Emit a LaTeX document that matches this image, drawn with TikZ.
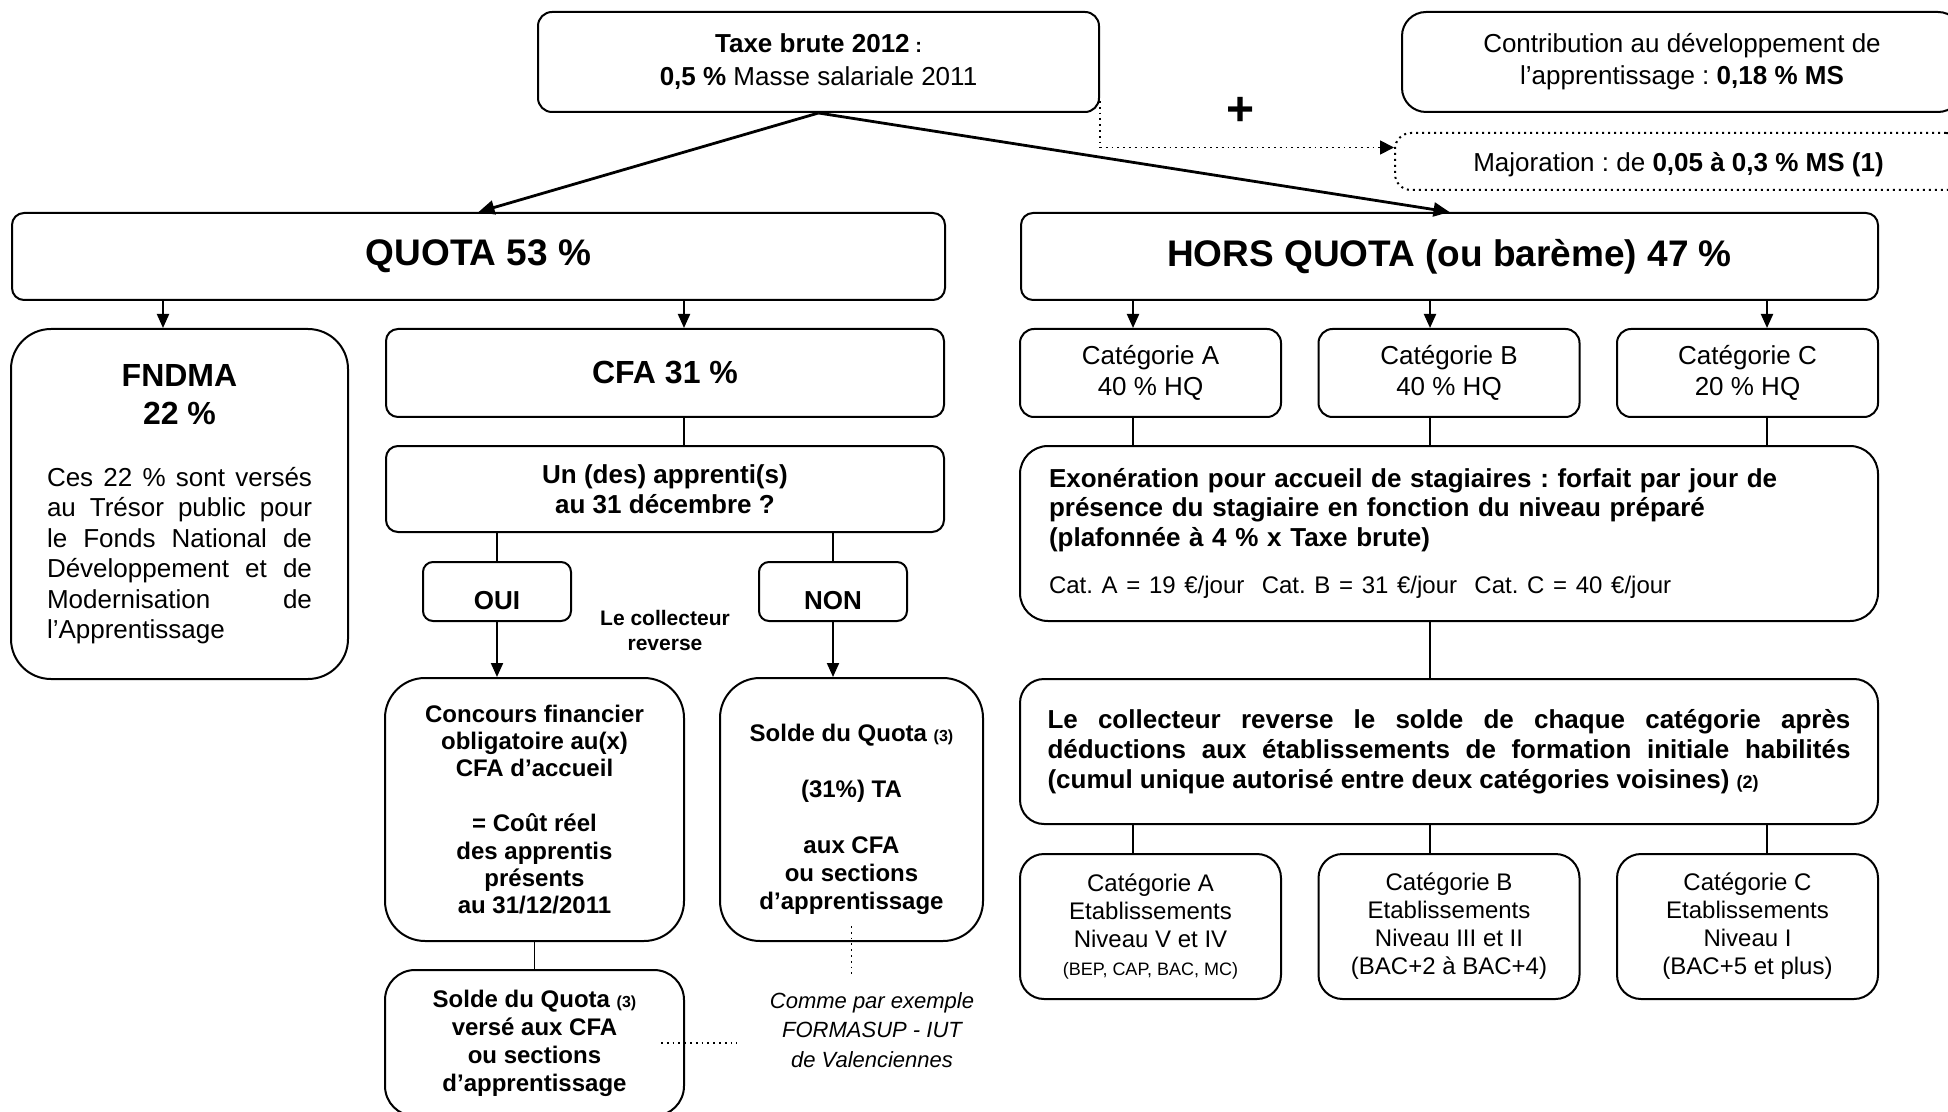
\documentclass[tikz,border=0pt]{standalone}
\usepackage{fontspec}
\setmainfont{Liberation Sans}
\usetikzlibrary{arrows.meta}
\hyphenpenalty=10000
\exhyphenpenalty=10000
\tolerance=10000
\frenchspacing

\tikzset{
  box/.style={draw, line width=1pt, rounded corners=6pt, inner sep=0pt, align=center, font=\fontsize{13}{15}\selectfont},
  bigbox/.style={box, rounded corners=20pt},
  dotbox/.style={box, dotted, rounded corners=8pt},
  arr/.style={-{Triangle[length=7pt,width=6pt]}, line width=1pt},
  bigarr/.style={-{Triangle[length=8pt,width=7pt]}, line width=1.4pt},
  link/.style={line width=0.7pt},
  dotlink/.style={line width=0.9pt, dotted},
}

\begin{document}
\begin{tikzpicture}[x=0.5pt,y=-0.5pt]
\useasboundingbox (0,0) rectangle (1948,1112);

\node[box, rounded corners=7pt, minimum width=280.5pt, minimum height=50pt, font=\fontsize{13}{16.5}\selectfont] (taxe) at (818.5,62) {\textbf{Taxe brute 2012}{\fontsize{10}{10}\selectfont\bfseries\ :}\\\textbf{0,5 \%} Masse salariale 2011};
\node[box, rounded corners=12pt, minimum width=280pt, minimum height=50pt, font=\fontsize{13}{16}\selectfont] (contrib) at (1682,62) {Contribution au développement de\\l'apprentissage : \textbf{0,18 \% MS}};
\node[dotbox, minimum width=283.5pt, minimum height=28.5pt, text depth=0pt] (maj) at (1678.5,161.5) {Majoration : de \textbf{0,05 à 0,3 \% MS (1)}};
\node[font=\fontsize{24}{24}\selectfont\bfseries] (plus) at (1240,111) {+};

\node[box, minimum width=466.5pt, minimum height=43.5pt, font=\fontsize{18.5}{22}\selectfont\bfseries] (quota) at (478.5,256.5) {QUOTA 53 \%};
\node[box, minimum width=428.5pt, minimum height=43.5pt, font=\fontsize{18.5}{22}\selectfont\bfseries] (hq) at (1449.5,256.5) {HORS QUOTA (ou barème) 47 \%};

\node[bigbox, minimum width=168.5pt, minimum height=175pt, text width=132.5pt, align=justify, font=\fontsize{13}{15.2}\selectfont] (fndma) at (179.5,504) {{\centering\fontsize{16}{19}\selectfont\bfseries FNDMA\par 22~\%\par}\vspace{16pt}Ces 22~\% sont versés\linebreak au Trésor public pour\linebreak le Fonds National de\linebreak Développement et de\linebreak Modernisation de\linebreak l'Apprentissage};
\node[box, minimum width=279pt, minimum height=44pt, font=\fontsize{16}{19}\selectfont\bfseries] (cfa) at (665,373) {CFA 31 \%};
\node[box, minimum width=279pt, minimum height=43pt, font=\fontsize{13}{15}\selectfont\bfseries] (un) at (665,489) {Un (des) apprenti(s)\\au 31 décembre ?};
\node[box, rounded corners=5pt, minimum width=74pt, minimum height=29.5pt, text height=17.8pt, text depth=0pt, font=\fontsize{13}{15}\selectfont\bfseries] (oui) at (497,591.5) {OUI};
\node[box, rounded corners=5pt, minimum width=74pt, minimum height=29.5pt, text height=17.8pt, text depth=0pt, font=\fontsize{13}{15}\selectfont\bfseries] (non) at (833,591.5) {NON};
\node[align=center, font=\fontsize{10.5}{12.5}\selectfont\bfseries] (collect) at (665,630) {Le collecteur\\reverse};
\node[bigbox, minimum width=149.5pt, minimum height=131.5pt, font=\fontsize{12}{13.7}\selectfont\bfseries] (concours) at (534.5,809.5) {Concours financier\\obligatoire au(x)\\CFA d'accueil\\[13.7pt]= Coût réel\\des apprentis\\présents\\au 31/12/2011};
\node[bigbox, minimum width=131.5pt, minimum height=131.5pt, font=\fontsize{12}{14}\selectfont\bfseries] (soldeta) at (851.5,809.5) {\rule{0pt}{19pt}Solde du Quota {\fontsize{8}{8}\selectfont (3)}\\[14pt](31\%) TA\\[14pt]aux CFA\\ou sections\\d'apprentissage};
\node[box, rounded corners=15pt, minimum width=149.5pt, minimum height=73pt, font=\fontsize{12}{14}\selectfont\bfseries] (solde2) at (534.5,1043) {Solde du Quota {\fontsize{8}{8}\selectfont (3)}\\versé aux CFA\\ou sections\\d'apprentissage};
\node[align=center, font=\fontsize{11}{14.75}\selectfont\itshape] (comme) at (872,1030) {Comme par exemple\\FORMASUP - IUT\\de Valenciennes};

\node[box, rounded corners=7pt, minimum width=130.5pt, minimum height=44pt, font=\fontsize{13}{15.5}\selectfont] (catA) at (1150.5,373) {Catégorie A\\40 \% HQ};
\node[box, rounded corners=7pt, minimum width=130.5pt, minimum height=44pt, font=\fontsize{13}{15.5}\selectfont] (catB) at (1449,373) {Catégorie B\\40 \% HQ};
\node[box, rounded corners=7pt, minimum width=130.5pt, minimum height=44pt, font=\fontsize{13}{15.5}\selectfont] (catC) at (1747.5,373) {Catégorie C\\20 \% HQ};
\node[box, rounded corners=14pt, minimum width=429pt, minimum height=87.5pt, text width=400pt, align=left, font=\fontsize{13}{14.75}\selectfont] (exo) at (1449,533.5) {\textbf{Exonération pour accueil de stagiaires : forfait par jour de}\\\textbf{présence du stagiaire en fonction du niveau préparé}\\\textbf{(plafonnée à 4 \% x Taxe brute)}\\[9pt]{\fontsize{12}{14}\selectfont Cat. A = 19 €/jour\ \ Cat. B = 31 €/jour\ \ Cat. C = 40 €/jour}};
\node[box, rounded corners=12pt, minimum width=429pt, minimum height=72.5pt, text width=401.5pt, align=justify, font=\fontsize{13}{15}\selectfont\bfseries] (collbox) at (1449,751.5) {Le collecteur reverse le solde de chaque catégorie après\linebreak déductions aux établissements de formation initiale habilités\linebreak (cumul unique autorisé entre deux catégories voisines) {\fontsize{9}{9}\selectfont (2)}};
\node[box, rounded corners=12pt, minimum width=130.5pt, minimum height=72.5pt, font=\fontsize{12}{14}\selectfont] (botA) at (1150.5,926.5) {Catégorie A\\Etablissements\\Niveau V et IV\\{\fontsize{9}{14}\selectfont(BEP, CAP, BAC, MC)}};
\node[box, rounded corners=12pt, minimum width=130.5pt, minimum height=72.5pt, font=\fontsize{12}{14}\selectfont] (botB) at (1449,926.5) {Catégorie B\\Etablissements\\Niveau III et II\\(BAC+2 à BAC+4)};
\node[box, rounded corners=12pt, minimum width=130.5pt, minimum height=72.5pt, font=\fontsize{12}{14}\selectfont] (botC) at (1747.5,926.5) {Catégorie C\\Etablissements\\Niveau I\\(BAC+5 et plus)};

\draw[bigarr] (taxe.south) -- (quota.north);
\draw[bigarr] (taxe.south) -- (hq.north);
\draw[dotlink, -{Triangle[length=7pt,width=7pt]}] ([yshift=6pt]taxe.south east) |- ([yshift=7pt]maj.west);

\draw[arr] ([xshift=-8.25pt]fndma.north |- quota.south) -- ([xshift=-8.25pt]fndma.north);
\draw[arr] ([xshift=9.5pt]cfa.north |- quota.south) -- ([xshift=9.5pt]cfa.north);
\draw[link] ([xshift=9.5pt]cfa.south) -- ([xshift=9.5pt]un.north);
\draw[link] (oui.north |- un.south) -- (oui.north);
\draw[link] (non.north |- un.south) -- (non.north);
\draw[arr] (oui.south) -- (oui.south |- concours.north);
\draw[arr] (non.south) -- (non.south |- soldeta.north);
\draw[link] (concours.south) -- (solde2.north);
\draw[dotlink] ([yshift=8pt]soldeta.south) -- ([yshift=4pt]soldeta.south |- comme.north);
\draw[dotlink] ([xshift=-12pt]solde2.east) -- ([xshift=-13pt]comme.west |- solde2.east);

\draw[arr] ([xshift=-8.75pt]catA.north |- hq.south) -- ([xshift=-8.75pt]catA.north);
\draw[arr] ([xshift=-9.5pt]catB.north |- hq.south) -- ([xshift=-9.5pt]catB.north);
\draw[arr] ([xshift=9.75pt]catC.north |- hq.south) -- ([xshift=9.75pt]catC.north);
\draw[link] ([xshift=-8.75pt]catA.south) -- ([xshift=-8.75pt]catA.south |- exo.north);
\draw[link] ([xshift=-9.5pt]catB.south) -- ([xshift=-9.5pt]catB.south |- exo.north);
\draw[link] ([xshift=9.75pt]catC.south) -- ([xshift=9.75pt]catC.south |- exo.north);
\draw[link] ([xshift=-9.5pt]exo.south) -- ([xshift=-9.5pt]collbox.north);
\draw[link] ([xshift=-8.75pt]botA.north |- collbox.south) -- ([xshift=-8.75pt]botA.north);
\draw[link] ([xshift=-9.5pt]botB.north |- collbox.south) -- ([xshift=-9.5pt]botB.north);
\draw[link] ([xshift=9.75pt]botC.north |- collbox.south) -- ([xshift=9.75pt]botC.north);
\end{tikzpicture}
\end{document}
